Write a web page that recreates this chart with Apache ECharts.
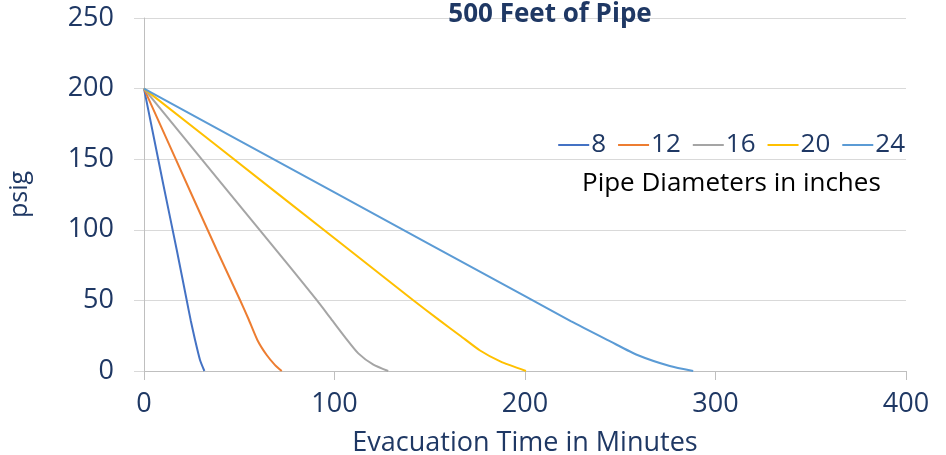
<!DOCTYPE html>
<html>
<head>
<meta charset="utf-8">
<script src="https://cdn.jsdelivr.net/npm/echarts@6/dist/echarts.min.js"></script>
<style>
html,body{margin:0;padding:0;background:#fff;}
#chart{width:946px;height:455px;}
</style>
</head>
<body>
<div id="chart"></div>
<script>
// Pipe diameters (inches)
const seriesNames = ['8', '12', '16', '20', '24'];
const seriesColors = ['#4472C4', '#ED7D31', '#A5A5A5', '#FFC000', '#5B9BD5'];

// Evacuation time (minutes) and pressure (psig) for each diameter
const t8  = [0, 10, 17.2, 22.4, 24.5, 26.8, 29.4, 31.7];
const p8  = [200, 133, 85.7, 50.3, 36, 22, 7.8, 0];
const t12 = [0, 25, 38.2, 50.4, 54.8, 59.5, 64.4, 68.8, 72.3];
const p12 = [200, 125, 85.7, 50.3, 37, 22, 11.3, 4.2, 0];
const t16 = [0, 40, 76.6, 90.6, 97.6, 105.5, 112.5, 120.4, 128.2];
const p16 = [200, 134, 73.7, 50.3, 38, 24, 12.5, 4.5, 0];
const t20 = [0, 70, 141, 155, 166, 176.4, 187, 200.5];
const p20 = [200, 125.8, 50.5, 36, 25, 14.5, 6.8, 0];
const t24 = [0, 100, 200, 224, 245, 259, 276, 288.3];
const p24 = [200, 126.5, 53, 35.3, 20.8, 11.3, 3.5, 0];

const times = [t8, t12, t16, t20, t24];
const pressures = [p8, p12, p16, p20, p24];

const xTicks = [0, 100, 200, 300, 400];
const yTicks = [0, 50, 100, 150, 200, 250];

const navy = '#1F3864';
const font = '"Open Sans", "Noto Sans", sans-serif';

const chart = echarts.init(document.getElementById('chart'), null, {renderer: 'canvas'});

const series = seriesNames.map((name, i) => ({
  name: name,
  type: 'line',
  showSymbol: false,
  symbol: 'none',
  smooth: 0.2,
  lineStyle: {width: 2, color: seriesColors[i]},
  itemStyle: {color: seriesColors[i]},
  data: times[i].map((t, j) => [t, pressures[i][j]])
}));

chart.setOption({
  animation: false,
  backgroundColor: '#fff',
  color: seriesColors,
  grid: {left: 144, right: 40, top: 18, bottom: 84, containLabel: false, outerBoundsMode: 'none'},
  title: {
    text: '500 Feet of Pipe',
    left: 545, top: -3, textAlign: 'center',
    textStyle: {color: navy, fontSize: 26, fontWeight: 'bold', fontFamily: font}
  },
  legend: {
    data: seriesNames,
    right: 36, top: 127,
    icon: 'rect',
    itemWidth: 31, itemHeight: 2,
    itemGap: 12,
    textStyle: {color: navy, fontSize: 26, fontFamily: font, padding: [0, 0, 0, -3]}
  },
  graphic: [{
    type: 'text',
    left: 582, top: 171,
    style: {text: 'Pipe Diameters in inches', fill: '#000', fontSize: 26, fontFamily: font}
  }],
  xAxis: {
    type: 'value',
    min: xTicks[0], max: xTicks[xTicks.length - 1], interval: 100,
    name: 'Evacuation Time in Minutes',
    nameLocation: 'middle', nameGap: 59,
    nameTextStyle: {color: navy, fontSize: 27, fontFamily: font},
    axisLine: {show: true, lineStyle: {color: '#BFBFBF', width: 1}},
    axisTick: {show: true, length: 9, lineStyle: {color: '#BFBFBF'}},
    axisLabel: {color: navy, fontSize: 27, fontFamily: font, margin: 20},
    splitLine: {show: false}
  },
  yAxis: {
    type: 'value',
    min: yTicks[0], max: yTicks[yTicks.length - 1], interval: 50,
    name: 'psig',
    nameLocation: 'middle', nameGap: 112, nameRotate: 90,
    nameTextStyle: {color: navy, fontSize: 25, fontFamily: font},
    axisLine: {show: true, lineStyle: {color: '#BFBFBF', width: 1}},
    axisTick: {show: true, length: 10, lineStyle: {color: '#D9D9D9'}},
    axisLabel: {color: navy, fontSize: 27, fontFamily: font, margin: 30},
    splitLine: {show: true, lineStyle: {color: '#D9D9D9', width: 1}}
  },
  series: series
});
</script>
</body>
</html>
